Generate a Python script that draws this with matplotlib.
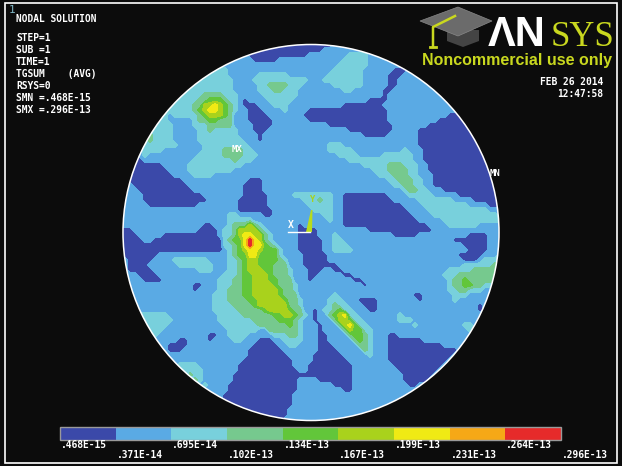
import re
import numpy as np
import matplotlib
matplotlib.use("Agg")
import matplotlib.pyplot as plt
from matplotlib.colors import ListedColormap
from matplotlib.patches import Circle, Polygon, Rectangle

# ----- data: contour band every 5 px (x 120..500, y 40..425),
# run-length coded: letter = band (a = lowest .. i = highest), number = run length
band_rows = """
b27a16b34 b27a16b34 b26a15b36 b26a12b8c4b27 b27a5b13c5b27 b44c6b27 b20c2b21c6b6a3b19
b18c4b6c6b8c7b5a3b20 b17c6b4c11b3c8b5a2b21 b15c8b5c2d4c3b6c6b5a2b21 b13c10b5c3d2c3b9c2b6a2b22
b12c5d4c3b5c7b17a1b23 b10c6d2e3d1c2b1a1b4c5b15a4b23 b8c7d2f2g1f1e1d1c1b1a3b3c3b11a8b24
b9c6d1e1f1g2f1e1d1c1b2a3b4c1b4a16b23 b9c1b1c5d1e1f3e1d1b3a4b7a17b12a3b8
b8c2b5c1d2e2d3b3a5b7a16b10a9b4 b7c4b4c3d5b4a4b11a13b7a11b4 b5c6b5c2d1c5b3a3b16a9b5a13b4
b5c1d1c4b5c8b4a1b20a5b6a13b4 b5c1d1c4b5c9b3a1b31a14b3 b5c7b5c9b16c3b15a14b3
b5c4b8c4d4c2b15c5b10c1b3a13b3 b5c1b10c5d4c3b16c4b5c6b2a13b3 b3a2b10c8d1c3b19c13b2a14b2
a9b5c11b24c5d3c3b2a13b2 b1a9b4c9b28c3d4c2b2a13b2 b2a9b4c4b33c3d3c2b3a13b1
b2a11b13a3b25c2d3c2b2a13b1 b3a11b11a4b26c2d2c2b2a13b1 b4a11b10a4b28c1d2c2b3a11b1
b5a12b8a5b5c8b2a9b4c5b5a9 b5a13b6a6b7c3d1c2b2a10b5c7b4a6 b6a10b8a6b8c5b2a12b4c9b4a3
b24a7b8c4b2a13b4c12b3 b22c2b5a2b10c2b2a14b4c13b1 b22c5b15c1b2a15b5c12
b17a2b3c1d3f1d1c1b7a1b8a17b4c6b5 a3b13a4b1c2d1f4d1c1b6a4b10a13b14
a4b5a11b1c2d1f1g2f2d1c1b5a4b3c1b11a5b10a4b3 a5b2a14c1d1e2g1i1g1f1d1c1b5a5b2c2b22a7b3
b1a20c2d1e1g1i1g2e1d1c1b4a5b2c3b23a5b3 b1a20b1c1d1e1f1g2f1e3c1b3a5b2c4b23a4b3
b1a7b14c1d1e2g2e4c1b4a5b26a5b3c1 b2a5b4c7b4c2d1e1f2e4d1c1b3a5b27a3b1c4
b2a4b6c7b3c2d1e1f2e3d3b3a7b25c6d1c1 b2a5b9c3b3c2d1e1f3e2d3c1b3a3b2a2b21c5d5c1
b4a4b13c3d1e2f3e1d3c1b3a2b5a2b18c3d8c1 b5a4b11c3d2e2f3e2d3b3a1b8a2b17c1d2e1d6c1
b15a2b3c3d2e2f4e1d3c1b13a1b16c1d2e2d2c4 b15a1b4c2d3e2f5e1d2c1b30c2d2c3b4
b19c3d3e2f5e1d3b7c1b15a2b6c3b7 b19c3d4e2f5e1d2c1b5c3b3a4b8a1b6c1b9
b19c4d4e1f6d2c1b5c1d1c2b3a3b20a1b4 b19c5d5e1f4e1d2b2a1b1c2d1e1c2b3a2b20a1b4
b4c6b10c5d6e2f2e1d1c1b1a1b2d1e1f1g1c2b8c1b20 b2c9b9c7d5e3d1c1b2a1b3d1f2e1c2b7c3b18
b4c6b11c7d6e1d1c1b3a1b3d1f1g1e1c2b9c1b9c2b6 b6c3b13c6b2d6c1b3a1b4d1f1e2c2b19c3b4
b7c1b10a2b2c4b5c3d2c1b3a2b4d1e2d1c1b3a2b21 b12a2b4a1b4c2b3a3b2c4b3a2b5d1e1d1c1b3a7b16
b10a4b13a5b2c2b4a3b5d2c1b3a11b12 b10a3b13a7b7a4b5d1c1b3a14b9 b26a8b5a6b5c1b3a13b10
b25a10b4a7b8a12b11 b12c4b8a11b3a9b8a10b12 b13c4b7a12b2a9b9a8b13 b14d1c2b6a24b10a6b14
b15d1c1b6a13b4a7b10a5b15 b17c1b4a14b7a4b11a2b17 b22a14b9a2b30 b21a14b42 b21a14b42
b20a15b42 b24a10b43 b27a7b43 b30a3b44 b77
""".split()
band_colors = ["#3b49a9", "#5aaae4", "#78d0dc", "#76c98e", "#62c63a",
               "#a9d21c", "#f0ea14", "#f6a816", "#e62a2a"]
colorbar_upper = [".468E-15", ".695E-14", ".134E-13", ".199E-13", ".264E-13"]
colorbar_lower = [".371E-14", ".102E-13", ".167E-13", ".231E-13", ".296E-13"]
info_lines = ["STEP=1", "SUB =1", "TIME=1", "TGSUM    (AVG)", "RSYS=0",
              "SMN =.468E-15", "SMX =.296E-13"]

BG = "#0c0c0c"
MONO = ["DejaVu Sans Mono"]
LOGO = "#c9d81f"

def decode(row):
    out = []
    for letter, count in re.findall(r"([a-i])(\d+)", row):
        out += [ord(letter) - ord("a")] * int(count)
    return out

fig = plt.figure(figsize=(6.22, 4.66), dpi=100, facecolor=BG)
ax = fig.add_axes([0, 0, 1, 1])
ax.set_xlim(0, 622)
ax.set_ylim(466, 0)
ax.axis("off")

# frame
ax.add_patch(Rectangle((5, 3), 612, 459.5, fill=False, ec="white", lw=1.2))

# contour field clipped to the disc
grid = np.array([decode(r) for r in band_rows]) + 0.5
xs = 120 + 5 * np.arange(grid.shape[1])
ys = 40 + 5 * np.arange(grid.shape[0])
disc = Circle((311, 232.5), 188, transform=ax.transData, fc="none", ec="none")
ax.add_patch(disc)
cs = ax.contourf(xs, ys, grid, levels=np.arange(10), colors=band_colors)
cs.set_clip_path(disc)
ax.add_patch(Circle((311, 232.5), 188, fill=False, ec="white", lw=1.1))

def mono(x, y, s, color="white", size=6.9, **kw):
    ax.text(x, y, s, color=color, fontsize=size, family=MONO, va="center", ha="left",
            fontweight="bold", **kw)

# header text
ax.text(9, 10, "1", color="#7fb6c4", fontsize=8, family=MONO, va="center")
mono(16, 19, "NODAL SOLUTION")
for i, line in enumerate(info_lines):
    mono(16, 38 + 12 * i, line)
mono(540, 82, "FEB 26 2014")
mono(557, 94, "12:47:58")
mono(232, 149, "MX", size=6.5)
mono(490, 174, "MN", size=6.5)

# triad
ax.plot([288, 310], [232, 232], color="white", lw=1.0)
ax.add_patch(Polygon([[306, 232], [312, 232], [312.5, 210], [311, 210]], fc="#b8dc1c", ec="none"))
mono(288, 225, "X", size=7)
mono(309, 200, "Y", color="#a9d21c", size=6.5)

# logo
ax.add_patch(Polygon([[447, 30], [479, 30], [479, 41], [463, 47], [447, 41]], fc="#444444", ec="none"))
ax.add_patch(Polygon([[420, 21], [458, 7], [492, 21], [458, 36]], fc="#6b6b6b", ec="#888888", lw=0.5))
ax.plot([455, 433, 433], [16, 27, 47], color=LOGO, lw=1.8)
ax.plot([430, 436], [47, 47], color=LOGO, lw=2)
ax.text(488, 46.5, "\u039bN", color="white", fontsize=30, fontweight="bold",
        family="Liberation Sans", va="baseline", ha="left")
ax.text(551, 46.5, "SYS", color=LOGO, fontsize=25, family="Liberation Serif",
        va="baseline", ha="left")
ax.text(517, 60, "Noncommercial use only", color=LOGO, fontsize=11.5, fontweight="bold",
        family="Liberation Sans", va="center", ha="center")

# colour legend
edges = np.linspace(60, 561, len(band_colors) + 1)
ax.pcolormesh(edges, [428, 440], np.arange(len(band_colors)).reshape(1, -1),
              cmap=ListedColormap(band_colors), vmin=-0.5, vmax=len(band_colors) - 0.5)
ax.add_patch(Rectangle((60, 427), 501, 13, fill=False, ec="#9a9a9a", lw=1.0))
for i, s in enumerate(colorbar_upper):
    mono(edges[2 * i] + 1, 444.5, s)
for i, s in enumerate(colorbar_lower):
    mono(edges[2 * i + 1] + 1, 454.5, s)

fig.savefig("out.png", dpi=100, facecolor=BG)
